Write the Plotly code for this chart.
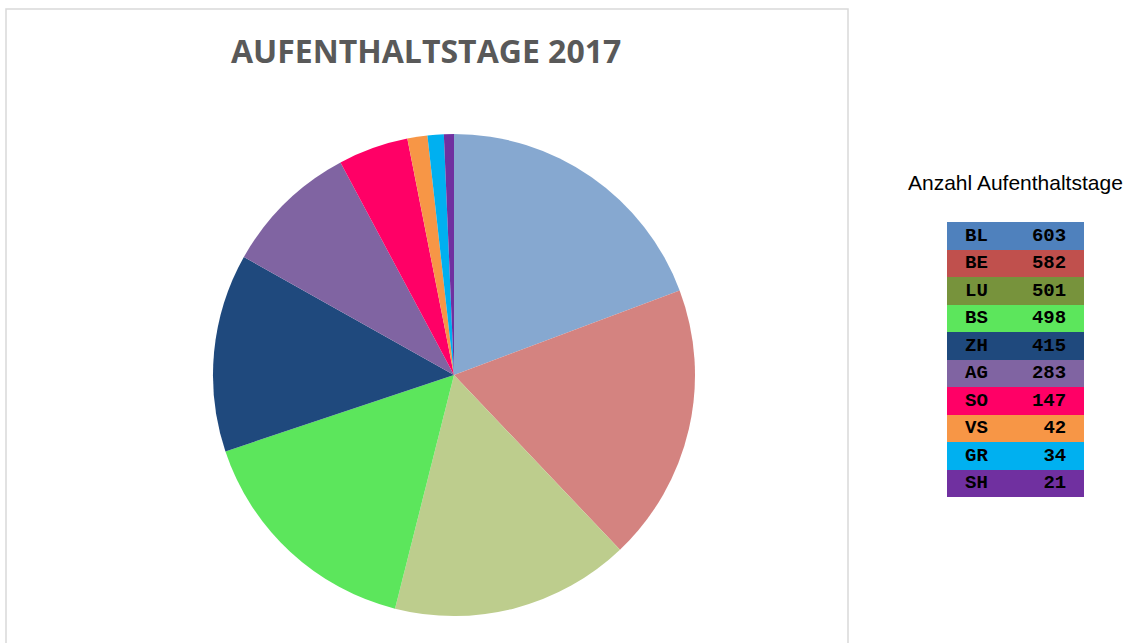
import plotly.graph_objects as go

W, H = 1127, 643

kantone = ["BL", "BE", "LU", "BS", "ZH", "AG", "SO", "VS", "GR", "SH"]
tage = [603, 582, 501, 498, 415, 283, 147, 42, 34, 21]

pie_colors = ["#86A8D0", "#D48380", "#BDCD8D", "#5CE65C", "#1F497D",
              "#8064A2", "#FF0066", "#F79646", "#00B0F0", "#7030A0"]
table_colors = ["#4F81BD", "#C0504D", "#77933C", "#5CE65C", "#1F497D",
                "#8064A2", "#FF0066", "#F79646", "#00B0F0", "#7030A0"]


def px_x(x):
    return x / W


def px_y(y):
    return 1 - y / H


mono = dict(family="Liberation Mono, Courier New, monospace", size=19, color="#000000")

fig = go.Figure()

# Kuchen
fig.add_trace(go.Pie(
    labels=kantone,
    values=tage,
    sort=False,
    direction="clockwise",
    rotation=0,
    textinfo="none",
    hoverinfo="label+value+percent",
    marker=dict(colors=pie_colors, line=dict(width=0)),
    domain=dict(x=[px_x(213), px_x(695)], y=[px_y(616), px_y(134)]),
    showlegend=False,
))

# Tabelle rechts: farbige Zeilen als Balken, Text darüber
fig.add_trace(go.Bar(
    y=kantone,
    x=[1] * len(kantone),
    orientation="h",
    width=1,
    marker=dict(color=table_colors, line=dict(width=0)),
    hoverinfo="skip",
    showlegend=False,
    xaxis="x2",
    yaxis="y2",
))
fig.add_trace(go.Scatter(
    y=kantone,
    x=[0.215] * len(kantone),
    mode="text",
    text=["<b>%s</b>" % k for k in kantone],
    textposition="middle center",
    textfont=mono,
    hoverinfo="skip",
    showlegend=False,
    xaxis="x2",
    yaxis="y2",
))
fig.add_trace(go.Scatter(
    y=kantone,
    x=[0.87] * len(kantone),
    mode="text",
    text=["<b>%d</b>" % v for v in tage],
    textposition="middle left",
    textfont=mono,
    hoverinfo="skip",
    showlegend=False,
    xaxis="x2",
    yaxis="y2",
))

fig.update_layout(
    width=W,
    height=H,
    margin=dict(l=0, r=0, t=0, b=0),
    paper_bgcolor="white",
    plot_bgcolor="white",
    bargap=0,
    xaxis2=dict(domain=[px_x(947), px_x(1084)], range=[0, 1], visible=False,
                fixedrange=True, anchor="y2"),
    yaxis2=dict(domain=[px_y(497), px_y(222)], autorange="reversed", visible=False,
                fixedrange=True, anchor="x2", type="category"),
    shapes=[dict(type="rect", xref="paper", yref="paper",
                 x0=px_x(6), x1=px_x(848), y0=-0.05, y1=px_y(9),
                 line=dict(color="#D9D9D9", width=1.5))],
    annotations=[
        dict(text="<b>AUFENTHALTSTAGE 2017</b>", x=px_x(426), y=px_y(50),
             xref="paper", yref="paper", showarrow=False,
             xanchor="center", yanchor="middle",
             font=dict(family="Open Sans", size=32, color="#595959")),
        dict(text="Anzahl Aufenthaltstage", x=px_x(1015), y=px_y(183),
             xref="paper", yref="paper", showarrow=False,
             xanchor="center", yanchor="middle",
             font=dict(family="Liberation Sans, Arial", size=21, color="#000000")),
    ],
)

fig.write_html("out.html", config={"displayModeBar": False},
               post_script="document.body.style.margin='0';")
